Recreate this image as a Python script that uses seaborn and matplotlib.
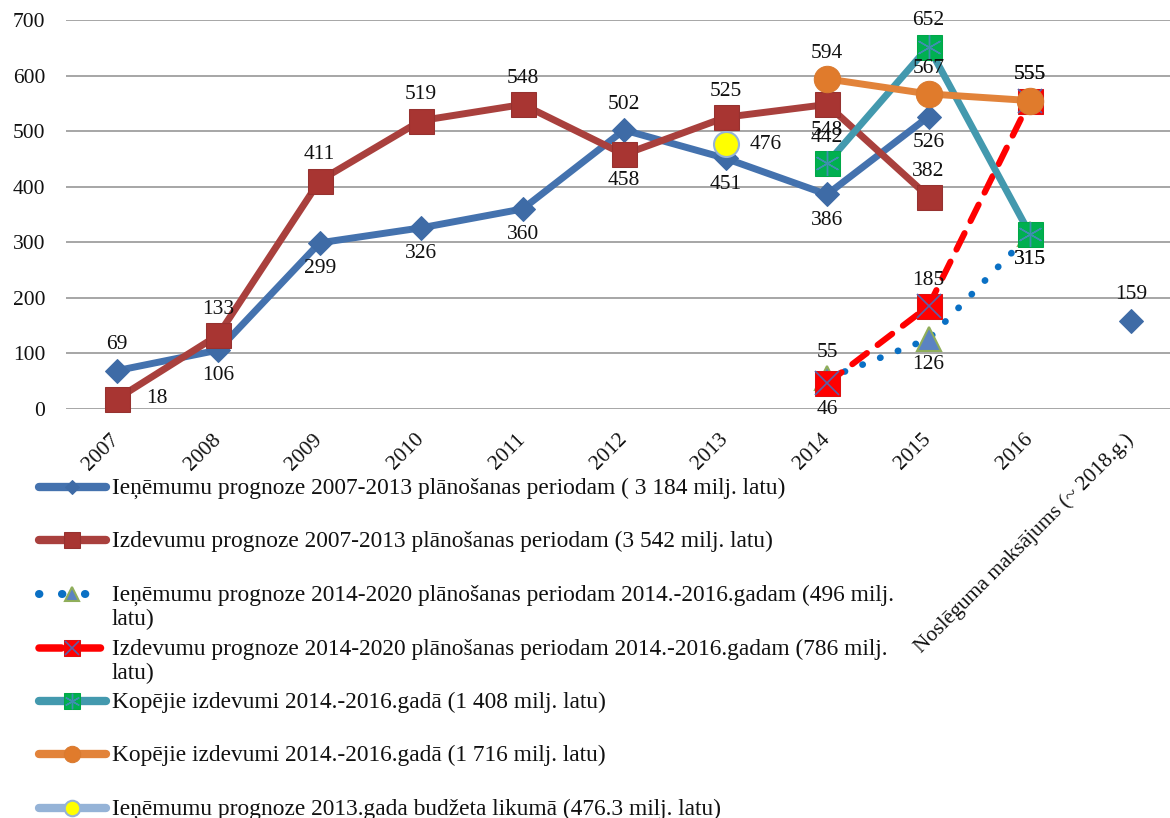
"""
Budžeta ieņēmumu un izdevumu prognozes (milj. latu) - line chart
"""

import numpy as np
import matplotlib
matplotlib.use("Agg")
import matplotlib.pyplot as plt
from matplotlib.lines import Line2D
import seaborn as sns

# Data
categories = ['2007', '2008', '2009', '2010', '2011', '2012', '2013', '2014',
              '2015', '2016', 'Noslēguma maksājums (~ 2018.g.)']
nan = np.nan
ienem_0713 = [69, 106, 299, 326, 360, 502, 451, 386, 526, nan, 159]
izdev_0713 = [18, 133, 411, 519, 548, 458, 525, 548, 382, nan, nan]
ienem_1420 = [nan, nan, nan, nan, nan, nan, nan, 55, 126, 315, nan]
izdev_1420 = [nan, nan, nan, nan, nan, nan, nan, 46, 185, 555, nan]
kopejie_1408 = [nan, nan, nan, nan, nan, nan, nan, 442, 652, 315, nan]
kopejie_1716 = [nan, nan, nan, nan, nan, nan, nan, 594, 567, 555, nan]
budzets_2013 = [nan, nan, nan, nan, nan, nan, 476.3, nan, nan, nan, nan]

legend_labels = [
    'Ieņēmumu prognoze 2007-2013 plānošanas periodam ( 3 184 milj. latu)',
    'Izdevumu prognoze 2007-2013 plānošanas periodam (3 542 milj. latu)',
    'Ieņēmumu prognoze 2014-2020 plānošanas periodam 2014.-2016.gadam (496 milj.\nlatu)',
    'Izdevumu prognoze 2014-2020 plānošanas periodam 2014.-2016.gadam (786 milj.\nlatu)',
    'Kopējie izdevumi 2014.-2016.gadā (1 408 milj. latu)',
    'Kopējie izdevumi 2014.-2016.gadā (1 716 milj. latu)',
    'Ieņēmumu prognoze 2013.gada budžeta likumā (476.3 milj. latu)',
]

# where each data label sits: a = above, b = below, r = right
lab_ienem_0713 = ['a', 'b', 'b', 'b', 'b', 'a', 'b', 'b', 'b', None, 'a']
lab_izdev_0713 = ['r', 'a', 'a', 'a', 'a', 'b', 'a', 'b', 'a', None, None]
lab_ienem_1420 = [None] * 7 + ['a', 'b', 'b', None]
lab_izdev_1420 = [None] * 7 + ['b', 'a', 'a', None]
lab_kop_1408 = [None] * 7 + ['a', 'a', 'b', None]
lab_kop_1716 = [None] * 7 + ['a', 'a', 'a', None]
lab_budz_2013 = [None] * 6 + ['r', None, None, None, None]

# Styles
series = [
    (ienem_0713, lab_ienem_0713,
     dict(color='#4472AE', lw=5, ls='-', marker='D', ms=12, mfc='#3E6BA6', mec='#3E6BA6'), None),
    (izdev_0713, lab_izdev_0713,
     dict(color='#A9403D', lw=5, ls='-', marker='s', ms=18, mfc='#A83532', mec='#963230'), None),
    (ienem_1420, lab_ienem_1420,
     dict(color='#0A70C4', lw=4.8, ls=(0, (0.05, 2.8)), dash_capstyle='round',
          marker='^', ms=17, mfc='#5B83C2', mec='#8FAE5A', mew=1.5), None),
    (izdev_1420, lab_izdev_1420,
     dict(color='#FF0000', lw=4.4, ls=(0, (3.0, 2.2)), dash_capstyle='round',
          marker='s', ms=18, mfc='#FF0000', mec='#E01010'),
     dict(marker='x', ms=17, mec='#5A5FA8', mew=1.2)),
    (kopejie_1408, lab_kop_1408,
     dict(color='#4399AE', lw=5, ls='-', marker='s', ms=18, mfc='#00B050', mec='#00A848'),
     dict(marker=(6, 2, 0), ms=18, mec='#3F8FB0', mew=1.0)),
    (kopejie_1716, lab_kop_1716,
     dict(color='#E2833A', lw=5, ls='-', marker='o', ms=19, mfc='#E07B2C', mec='#D97A30'), None),
    (budzets_2013, lab_budz_2013,
     dict(color='#95B3D7', lw=5, ls='-', marker='o', ms=18, mfc='#FFFF00', mec='#95B3D7', mew=1.5), None),
]

sns.set_style('white')
plt.rcParams['font.family'] = ['Liberation Serif', 'DejaVu Serif']

fig = plt.figure(figsize=(11.7, 8.18), dpi=100)
ax = fig.add_axes([66 / 1170, 1 - 409 / 818, (1170 - 66) / 1170, (409 - 20) / 818])

x = np.arange(len(categories))

for values, lab_pos, style, overlay in series:
    vals = np.array(values, dtype=float)
    ok = ~np.isnan(vals)
    # split into continuous segments so gaps are not bridged
    seg_start = None
    for i in range(len(vals) + 1):
        if i < len(vals) and ok[i]:
            if seg_start is None:
                seg_start = i
        elif seg_start is not None:
            sl = slice(seg_start, i)
            sns.lineplot(x=x[sl], y=vals[sl], ax=ax, clip_on=False, **style)
            seg_start = None
    if overlay is not None:
        ax.plot(x[ok], vals[ok], ls='none', clip_on=False, **overlay)

    for xi, v, pos in zip(x, vals, lab_pos):
        if pos is None or np.isnan(v):
            continue
        off = {'a': (0, 18.5), 'b': (0, -18.5), 'r': (29, 0)}[pos]
        ax.annotate(f'{v:.0f}', (xi, v), xytext=off, textcoords='offset points',
                    ha='center', va='center', fontsize=15.5, color='#111111',
                    annotation_clip=False)

ax.set_xlim(-0.5, 10.38)
ax.set_ylim(0, 700)
ax.set_yticks(range(0, 701, 100))
ax.set_xticks(x)
ax.set_xticklabels(categories, rotation=45, ha='right', va='center',
                   rotation_mode='anchor')
ax.tick_params(axis='x', length=0, pad=20, labelsize=15.5, labelcolor='#111111')
ax.tick_params(axis='y', length=0, pad=15, labelsize=15.5, labelcolor='#111111')
ax.yaxis.grid(True, color='#A6A6A6', lw=1.4)
ax.xaxis.grid(False)
ax.set_axisbelow(True)
sns.despine(ax=ax, left=True, bottom=True)
ax.set_xlabel('')
ax.set_ylabel('')

# Legend drawn below the plot, one row per series
row_px = [487, 540, 594, 648, 701, 754, 808]
for (values, lab_pos, style, overlay), label, ypx in zip(series, legend_labels, row_px):
    yf = 1 - ypx / 818
    fig.add_artist(Line2D([39 / 1170, 106 / 1170], [yf, yf], transform=fig.transFigure,
                          color=style['color'], lw=style['lw'] + 1, ls=style['ls'],
                          dash_capstyle=style.get('dash_capstyle', 'butt'),
                          solid_capstyle='round'))
    mk = dict(marker=style['marker'], mfc=style['mfc'], mec=style['mec'],
              mew=style.get('mew', 0.75), ms=style['ms'] * 0.62)
    fig.add_artist(Line2D([72 / 1170], [yf], transform=fig.transFigure, ls='none', **mk))
    if overlay is not None:
        ov = dict(overlay)
        ov['ms'] = ov['ms'] * 0.62
        fig.add_artist(Line2D([72 / 1170], [yf], transform=fig.transFigure, ls='none', **ov))
    fig.text(112 / 1170, yf + 9 / 818, label, ha='left', va='top',
             fontsize=16.8, color='#111111', linespacing=1.15)

fig.savefig('out.png', dpi=100)
